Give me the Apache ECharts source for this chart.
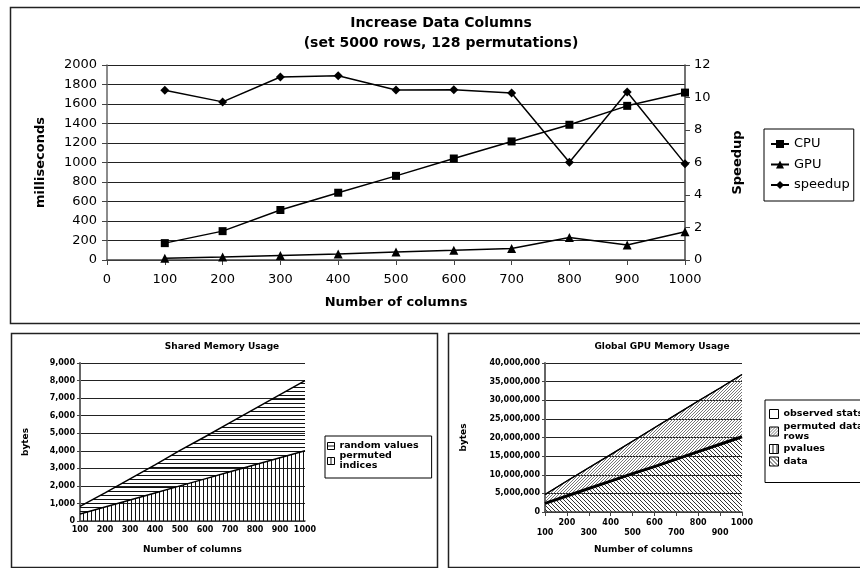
<!DOCTYPE html>
<html><head><meta charset="utf-8">
<script src="https://cdn.jsdelivr.net/npm/echarts@6/dist/echarts.min.js"></script>
<style>html,body{margin:0;padding:0;background:#fff}#c{width:860px;height:568px}</style>
</head><body><div id="c"></div>
<script>
// ---- data ----
const columns = [100, 200, 300, 400, 500, 600, 700, 800, 900, 1000];
const columnLabels = ['100','200','300','400','500','600','700','800','900','1000'];
const cpuMs = [173, 296, 513, 690, 863, 1041, 1216, 1387, 1581, 1717];
const gpuMs = [17, 30, 46, 61, 83, 99, 118, 231, 153, 289];
const speedup = [10.44, 9.73, 11.26, 11.34, 10.46, 10.48, 10.28, 6.01, 10.34, 5.93];

const permutedIndices = [400, 800, 1200, 1600, 2000, 2400, 2800, 3200, 3600, 4000];
const randomValues = [430, 800, 1200, 1600, 2020, 2400, 2800, 3200, 3600, 4000];

const dataBytes = [2300000, 4300000, 6300000, 8300000, 10300000, 12200000, 14200000, 16200000, 18200000, 20200000];
const pvaluesBytes = [400, 800, 1200, 1600, 2000, 2400, 2800, 3200, 3600, 4000];
const permutedRowsBytes = [2400000, 4000000, 5600000, 7100000, 8700000, 10400000, 12000000, 13600000, 15100000, 16700000];
const observedStatsBytes = [400, 800, 1200, 1600, 2000, 2400, 2800, 3200, 3600, 4000];

// ---- hatch patterns ----
function hatch(type, s, color, lw) {
  const c = document.createElement('canvas');
  c.width = s; c.height = s;
  const g = c.getContext('2d');
  g.fillStyle = color; g.strokeStyle = color; g.lineWidth = lw;
  if (type === 'h') { g.fillRect(0, s - 1, s, 1); }
  else if (type === 'v') { g.fillRect(s - 1, 0, 1, s); }
  else {
    g.beginPath();
    if (type === '/') {
      g.moveTo(-1, 1); g.lineTo(1, -1);
      g.moveTo(0, s); g.lineTo(s, 0);
      g.moveTo(s - 1, s + 1); g.lineTo(s + 1, s - 1);
    } else {
      g.moveTo(0, 0); g.lineTo(s, s);
      g.moveTo(-1, s - 1); g.lineTo(1, s + 1);
      g.moveTo(s - 1, -1); g.lineTo(s + 1, 1);
    }
    g.stroke();
  }
  return { image: c, repeat: 'repeat' };
}
const patH = hatch('h', 4, '#111', 1);
const patV = hatch('v', 4, '#111', 1);
const patSlash = hatch('/', 3, '#666', 0.9);
const patBack = hatch('\\', 4, '#333', 1);
const patWhite = '#fff';

const F = 'DejaVu Sans';
const chart = echarts.init(document.getElementById('c'), null, { renderer: 'canvas' });

const fmtComma = v => Number(v).toLocaleString('en-US');
const fmtPlain = v => String(v);

const option = {
  animation: false,
  textStyle: { fontFamily: F, color: '#000' },
  graphic: [
    { type: 'rect', shape: { x: 10.5, y: 7.5, width: 900, height: 316 }, style: { fill: 'none', stroke: '#222', lineWidth: 1.5 } },
    { type: 'rect', shape: { x: 11.5, y: 333.5, width: 426, height: 234 }, style: { fill: 'none', stroke: '#222', lineWidth: 1.5 } },
    { type: 'rect', shape: { x: 448.5, y: 333.5, width: 500, height: 234 }, style: { fill: 'none', stroke: '#222', lineWidth: 1.5 } },
    { type: 'text', x: 441, y: 23, style: { text: 'Increase Data Columns', font: 'bold 14px "DejaVu Sans"', fill: '#000', align: 'center', verticalAlign: 'middle' } },
    { type: 'text', x: 441, y: 43, style: { text: '(set 5000 rows, 128 permutations)', font: 'bold 14px "DejaVu Sans"', fill: '#000', align: 'center', verticalAlign: 'middle' } },
    { type: 'text', x: 222, y: 347, style: { text: 'Shared Memory Usage', font: 'bold 9px "DejaVu Sans"', fill: '#000', align: 'center', verticalAlign: 'middle' } },
    { type: 'text', x: 662, y: 347, style: { text: 'Global GPU Memory Usage', font: 'bold 9px "DejaVu Sans"', fill: '#000', align: 'center', verticalAlign: 'middle' } }
  ],
  legend: [
    {
      orient: 'vertical', left: 764, top: 129,
      padding: [7, 4, 8, 6], itemGap: 4.5, itemWidth: 18, itemHeight: 10,
      borderColor: '#000', borderWidth: 1,
      textStyle: { fontFamily: F, fontSize: 13, color: '#000', lineHeight: 16 },
      data: ['CPU', 'GPU', 'speedup']
    },
    {
      orient: 'vertical', left: 325, top: 436,
      padding: [5, 13, 7, 2], itemGap: 0, itemWidth: 7, itemHeight: 7,
      borderColor: '#000', borderWidth: 1,
      textStyle: { fontFamily: F, fontSize: 9.5, fontWeight: 'bold', color: '#000', lineHeight: 10 },
      data: [
        { name: 'random values', icon: 'rect', itemStyle: { color: patH, borderColor: '#000', borderWidth: 1 } },
        { name: 'permuted\nindices', icon: 'rect', itemStyle: { color: patV, borderColor: '#000', borderWidth: 1 } }
      ]
    },
    {
      orient: 'vertical', left: 765, top: 400,
      padding: [9, 20, 16, 4], itemGap: 2.5, itemWidth: 9, itemHeight: 9,
      borderColor: '#000', borderWidth: 1,
      textStyle: { fontFamily: F, fontSize: 9.5, fontWeight: 'bold', color: '#000', lineHeight: 10 },
      data: [
        { name: 'observed stats', icon: 'rect', itemStyle: { color: patWhite, borderColor: '#000', borderWidth: 1 } },
        { name: 'permuted data\nrows', icon: 'rect', itemStyle: { color: patSlash, borderColor: '#000', borderWidth: 1 } },
        { name: 'pvalues', icon: 'rect', itemStyle: { color: patV, borderColor: '#000', borderWidth: 1 } },
        { name: 'data', icon: 'rect', itemStyle: { color: patBack, borderColor: '#000', borderWidth: 1 } }
      ]
    }
  ],
  grid: [
    { left: 107, right: 175, top: 65, height: 195 },
    { left: 80, right: 555, top: 363, height: 158 },
    { left: 545, right: 118, top: 363, height: 149 }
  ],
  xAxis: [
    {
      gridIndex: 0, type: 'value', min: 0, max: 1000, interval: 100,
      name: 'Number of columns', nameLocation: 'middle', nameGap: 36,
      nameTextStyle: { fontFamily: F, fontSize: 13, fontWeight: 'bold', color: '#000' },
      axisLine: { lineStyle: { color: '#444', width: 1.5 } },
      axisTick: { show: true, length: 5, lineStyle: { color: '#444' } },
      axisLabel: { fontSize: 13, color: '#000', margin: 13, formatter: fmtPlain },
      splitLine: { show: false }
    },
    {
      gridIndex: 1, type: 'category', data: columnLabels, boundaryGap: false,
      name: 'Number of columns', nameLocation: 'middle', nameGap: 24,
      nameTextStyle: { fontFamily: F, fontSize: 9, fontWeight: 'bold', color: '#000' },
      axisLine: { lineStyle: { color: '#444', width: 1.5 } },
      axisTick: { show: false },
      axisLabel: { fontSize: 8, fontWeight: 'bold', color: '#000', margin: 5, interval: 0 },
      splitLine: { show: false }
    },
    {
      gridIndex: 2, type: 'category', data: columnLabels, boundaryGap: false,
      name: 'Number of columns', nameLocation: 'middle', nameGap: 33,
      nameTextStyle: { fontFamily: F, fontSize: 9, fontWeight: 'bold', color: '#000' },
      axisLine: { lineStyle: { color: '#444', width: 1.5 } },
      axisTick: { show: true, length: 4, interval: 0, lineStyle: { color: '#444' } },
      axisLabel: { fontSize: 8, fontWeight: 'bold', color: '#000', margin: 6, interval: 0, lineHeight: 10,
        formatter: (v, i) => (i % 2 === 0 ? '\n' + v : v) },
      splitLine: { show: false }
    }
  ],
  yAxis: [
    {
      gridIndex: 0, type: 'value', min: 0, max: 2000, interval: 200,
      name: 'milliseconds', nameLocation: 'middle', nameGap: 60, nameRotate: 90,
      nameTextStyle: { fontFamily: F, fontSize: 13, fontWeight: 'bold', color: '#000' },
      axisLine: { show: true, lineStyle: { color: '#666', width: 1.5 } },
      axisTick: { show: true, length: 5, lineStyle: { color: '#444' } },
      axisLabel: { fontSize: 13, color: '#000', margin: 10, formatter: fmtPlain },
      splitLine: { show: true, lineStyle: { color: '#222', width: 1 } }
    },
    {
      gridIndex: 0, type: 'value', min: 0, max: 12, interval: 2, position: 'right',
      name: 'Speedup', nameLocation: 'middle', nameGap: 46, nameRotate: 90,
      nameTextStyle: { fontFamily: F, fontSize: 13, fontWeight: 'bold', color: '#000' },
      axisLine: { show: true, lineStyle: { color: '#444', width: 1.5 } },
      axisTick: { show: true, length: 5, lineStyle: { color: '#444' } },
      axisLabel: { fontSize: 13, color: '#000', margin: 9, formatter: fmtPlain },
      splitLine: { show: false }
    },
    {
      gridIndex: 1, type: 'value', min: 0, max: 9000, interval: 1000,
      name: 'bytes', nameLocation: 'middle', nameGap: 50, nameRotate: 90,
      nameTextStyle: { fontFamily: F, fontSize: 9, fontWeight: 'bold', color: '#000' },
      axisLine: { show: true, lineStyle: { color: '#666', width: 2 } },
      axisTick: { show: true, length: 3, lineStyle: { color: '#444' } },
      axisLabel: { fontSize: 8, fontWeight: 'bold', color: '#000', margin: 5, formatter: fmtComma },
      splitLine: { show: true, lineStyle: { color: '#222', width: 1 } }
    },
    {
      gridIndex: 2, type: 'value', min: 0, max: 40000000, interval: 5000000,
      name: 'bytes', nameLocation: 'middle', nameGap: 77, nameRotate: 90,
      nameTextStyle: { fontFamily: F, fontSize: 9, fontWeight: 'bold', color: '#000' },
      axisLine: { show: true, lineStyle: { color: '#666', width: 2 } },
      axisTick: { show: true, length: 3, lineStyle: { color: '#444' } },
      axisLabel: { fontSize: 8, fontWeight: 'bold', color: '#000', margin: 5, formatter: fmtComma },
      splitLine: { show: true, lineStyle: { color: '#222', width: 1 } }
    }
  ],
  series: [
    { name: 'CPU', type: 'line', xAxisIndex: 0, yAxisIndex: 0,
      data: columns.map((c, i) => [c, cpuMs[i]]),
      symbol: 'rect', symbolSize: 8, lineStyle: { color: '#000', width: 1.5 }, itemStyle: { color: '#000' } },
    { name: 'GPU', type: 'line', xAxisIndex: 0, yAxisIndex: 0,
      data: columns.map((c, i) => [c, gpuMs[i]]),
      symbol: 'triangle', symbolSize: 9, lineStyle: { color: '#000', width: 1.5 }, itemStyle: { color: '#000' } },
    { name: 'speedup', type: 'line', xAxisIndex: 0, yAxisIndex: 1,
      data: columns.map((c, i) => [c, speedup[i]]),
      symbol: 'diamond', symbolSize: 9, lineStyle: { color: '#000', width: 1.5 }, itemStyle: { color: '#000' } },

    { name: 'permuted\nindices', type: 'line', xAxisIndex: 1, yAxisIndex: 2, stack: 'shm',
      data: permutedIndices, showSymbol: false, symbol: 'none',
      lineStyle: { color: '#000', width: 1.5 }, itemStyle: { color: patV },
      areaStyle: { color: patV, opacity: 1 } },
    { name: 'random values', type: 'line', xAxisIndex: 1, yAxisIndex: 2, stack: 'shm',
      data: randomValues, showSymbol: false, symbol: 'none',
      lineStyle: { color: '#000', width: 1.5 }, itemStyle: { color: patH },
      areaStyle: { color: patH, opacity: 1 } },

    { name: 'data', type: 'line', xAxisIndex: 2, yAxisIndex: 3, stack: 'gpu',
      data: dataBytes, showSymbol: false, symbol: 'none',
      lineStyle: { color: '#000', width: 3 }, itemStyle: { color: patBack },
      areaStyle: { color: patBack, opacity: 1 } },
    { name: 'pvalues', type: 'line', xAxisIndex: 2, yAxisIndex: 3, stack: 'gpu',
      data: pvaluesBytes, showSymbol: false, symbol: 'none',
      lineStyle: { color: '#000', width: 1.5 }, itemStyle: { color: patV },
      areaStyle: { color: patV, opacity: 1 } },
    { name: 'permuted data\nrows', type: 'line', xAxisIndex: 2, yAxisIndex: 3, stack: 'gpu',
      data: permutedRowsBytes, showSymbol: false, symbol: 'none',
      lineStyle: { color: '#000', width: 1.2 }, itemStyle: { color: patSlash },
      areaStyle: { color: patSlash, opacity: 1 } },
    { name: 'observed stats', type: 'line', xAxisIndex: 2, yAxisIndex: 3, stack: 'gpu',
      data: observedStatsBytes, showSymbol: false, symbol: 'none',
      lineStyle: { color: '#000', width: 1.2 }, itemStyle: { color: '#fff' },
      areaStyle: { color: '#fff', opacity: 0 } }
  ]
};
chart.setOption(option);
</script>
</body></html>
